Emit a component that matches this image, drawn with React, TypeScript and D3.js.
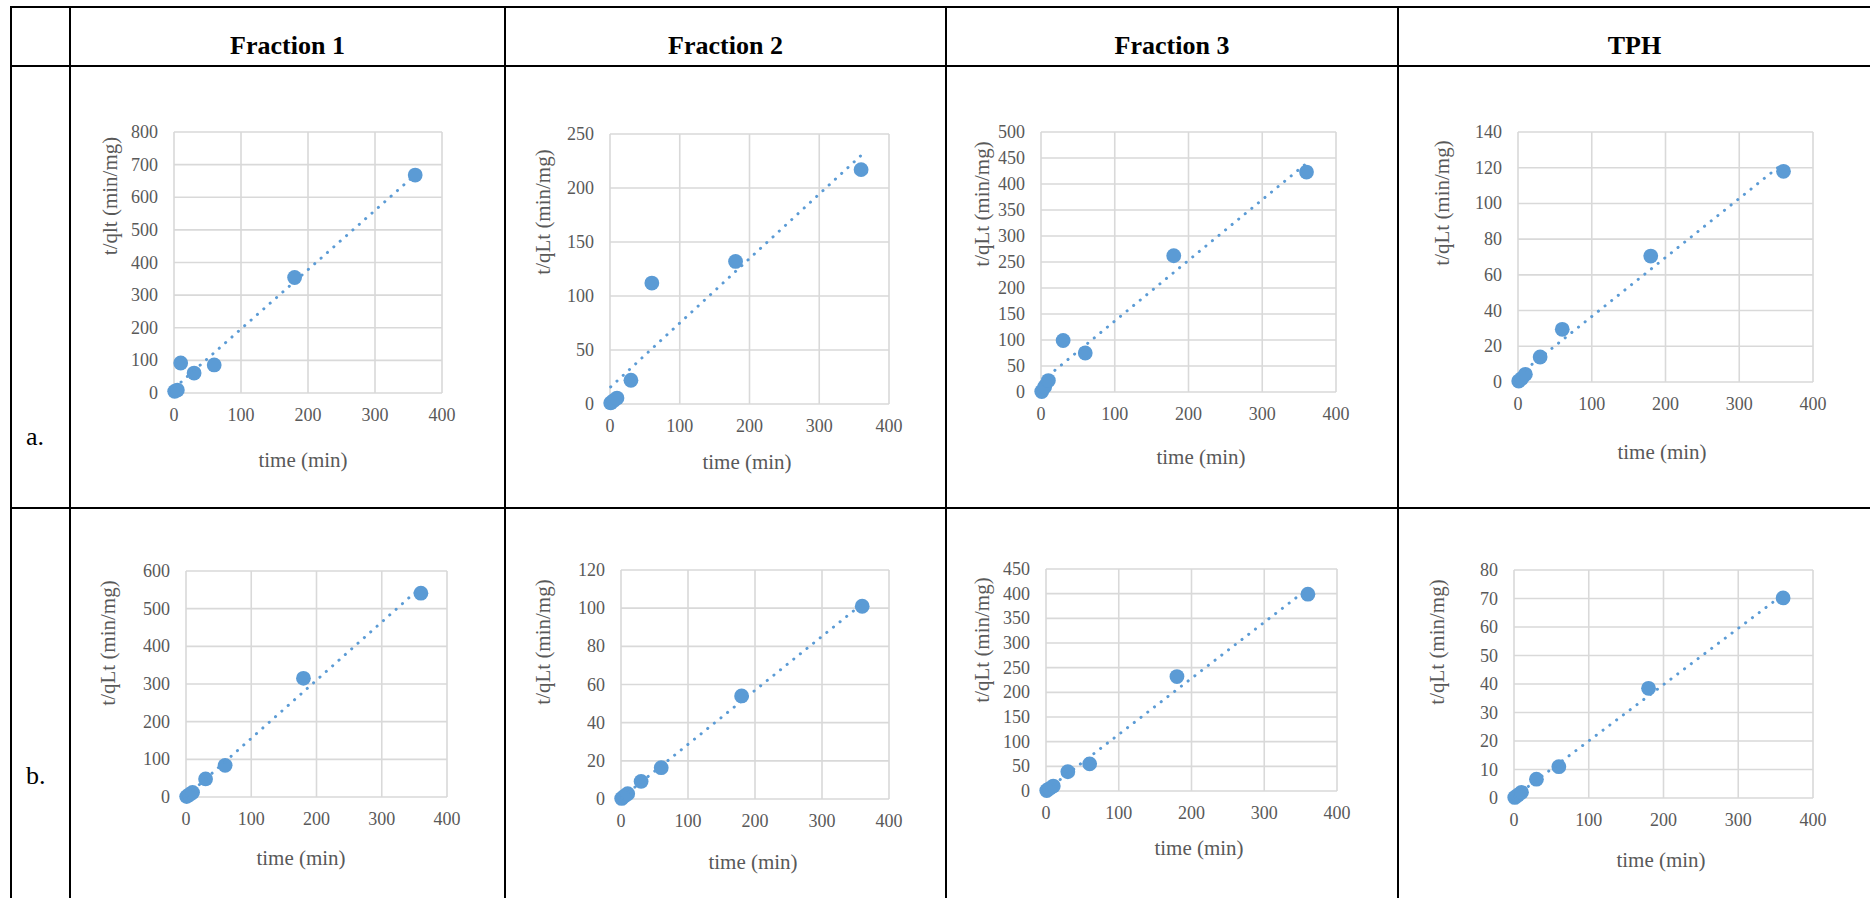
import React, { useEffect, useRef } from 'react';
import * as d3 from 'd3';

// sampling times (min)
const times = [1, 5, 10, 30, 60, 180, 360];

// t/qt values
const aFraction1 = [5, 9, 92, 61, 86, 354, 668];
const aFraction2 = [1, 3, 5.5, 22, 112, 132, 217];
const aFraction3 = [1, 10, 22, 99, 75, 262, 423];
const aTPH = [0.5, 2, 4.3, 14, 29.5, 70.5, 118];
const bFraction1 = [1, 6, 12, 48, 84, 315, 541];
const bFraction2 = [0.3, 1.5, 2.8, 9.2, 16.4, 54, 101];
const bFraction3 = [1, 5, 10, 39, 55, 232, 399];
const bTPH = [0.2, 1, 2, 6.6, 11, 38.5, 70.2];

const columnHeaders = ['Fraction 1', 'Fraction 2', 'Fraction 3', 'TPH'];
const rowLabels = ['a.', 'b.'];
const xTicks = [0, 100, 200, 300, 400];
const yMaxes = [800, 250, 500, 140, 600, 120, 450, 80];
const ySteps = [100, 50, 50, 20, 100, 20, 50, 10];
const yTitles = [
  't/qlt (min/mg)', 't/qLt (min/mg)', 't/qLt (min/mg)', 't/qLt (min/mg)',
  't/qLt (min/mg)', 't/qLt (min/mg)', 't/qLt (min/mg)', 't/qLt (min/mg)',
];
const series = [aFraction1, aFraction2, aFraction3, aTPH, bFraction1, bFraction2, bFraction3, bTPH];

// layout of each chart: plot box [left, top, right, bottom], title centres
const layout = [
  { box: [174, 132, 442, 393], xt: [303, 460], yt: [110, 196] },
  { box: [610, 134, 889, 404], xt: [747, 462], yt: [543, 212] },
  { box: [1041, 132, 1336, 392], xt: [1201, 457], yt: [982, 204] },
  { box: [1518, 132, 1813, 382], xt: [1662, 452], yt: [1442, 203] },
  { box: [186, 571, 447, 797], xt: [301, 858], yt: [108, 643] },
  { box: [621, 570, 889, 799], xt: [753, 862], yt: [543, 642] },
  { box: [1046, 569, 1337, 791], xt: [1199, 848], yt: [982, 640] },
  { box: [1514, 570, 1813, 798], xt: [1661, 860], yt: [1437, 642] },
];

const colX = [11, 70, 505, 946, 1398, 1871];
const rowY = [7, 66, 508, 900];

const W = 1870;
const H = 898;
const serif = '"Liberation Serif", "Times New Roman", serif';
const blue = '#5b9bd5';
const grey = '#595959';
const grid = '#d9d9d9';

const App = () => {
  const svgRef = useRef(null);

  useEffect(() => {
    const svg = d3.select(svgRef.current);
    svg.selectAll('*').remove();

    // table
    const table = svg.append('g');
    colX.forEach(x => {
      table.append('line')
        .attr('x1', x).attr('x2', x)
        .attr('y1', rowY[0] - 1).attr('y2', rowY[rowY.length - 1])
        .attr('stroke', '#000').attr('stroke-width', 2);
    });
    rowY.forEach(y => {
      table.append('line')
        .attr('x1', colX[0] - 1).attr('x2', colX[colX.length - 1])
        .attr('y1', y).attr('y2', y)
        .attr('stroke', '#000').attr('stroke-width', 2);
    });

    columnHeaders.forEach((h, i) => {
      table.append('text')
        .attr('x', (colX[i + 1] + colX[i + 2]) / 2)
        .attr('y', 54)
        .attr('text-anchor', 'middle')
        .style('font-family', serif)
        .style('font-weight', 'bold')
        .style('font-size', '26px')
        .text(h);
    });

    const rowBase = [445, 784];
    rowLabels.forEach((r, i) => {
      table.append('text')
        .attr('x', 26)
        .attr('y', rowBase[i])
        .style('font-family', serif)
        .style('font-size', '26px')
        .text(r);
    });

    // charts
    series.forEach((values, i) => {
      const [L, T, R, B] = layout[i].box;
      const g = svg.append('g');

      const x = d3.scaleLinear().domain([0, 400]).range([L, R]);
      const y = d3.scaleLinear().domain([0, yMaxes[i]]).range([B, T]);
      const yTicks = d3.range(0, yMaxes[i] + ySteps[i] / 2, ySteps[i]);

      // gridlines
      g.selectAll('.hg')
        .data(yTicks)
        .enter().append('line')
        .attr('x1', L).attr('x2', R)
        .attr('y1', d => y(d)).attr('y2', d => y(d))
        .attr('stroke', grid).attr('stroke-width', 1.6);

      g.selectAll('.vg')
        .data(xTicks)
        .enter().append('line')
        .attr('y1', T).attr('y2', B)
        .attr('x1', d => x(d)).attr('x2', d => x(d))
        .attr('stroke', grid).attr('stroke-width', 1.6);

      // tick labels
      g.selectAll('.yl')
        .data(yTicks)
        .enter().append('text')
        .attr('x', L - 16)
        .attr('y', d => y(d) + 6)
        .attr('text-anchor', 'end')
        .style('font-family', serif)
        .style('font-size', '18px')
        .attr('fill', grey)
        .text(d => d);

      g.selectAll('.xl')
        .data(xTicks)
        .enter().append('text')
        .attr('x', d => x(d))
        .attr('y', B + 28)
        .attr('text-anchor', 'middle')
        .style('font-family', serif)
        .style('font-size', '18px')
        .attr('fill', grey)
        .text(d => d);

      // axis titles
      g.append('text')
        .attr('x', layout[i].xt[0])
        .attr('y', layout[i].xt[1])
        .attr('text-anchor', 'middle')
        .attr('dominant-baseline', 'central')
        .style('font-family', serif)
        .style('font-size', '21px')
        .attr('fill', grey)
        .text('time (min)');

      g.append('text')
        .attr('transform', `translate(${layout[i].yt[0]},${layout[i].yt[1]}) rotate(-90)`)
        .attr('text-anchor', 'middle')
        .attr('dominant-baseline', 'central')
        .style('font-family', serif)
        .style('font-size', '21px')
        .attr('fill', grey)
        .text(yTitles[i]);

      // markers
      const pts = times.map((t, k) => ({ t, v: values[k] }));
      g.selectAll('.pt')
        .data(pts)
        .enter().append('circle')
        .attr('cx', d => x(d.t))
        .attr('cy', d => y(d.v))
        .attr('r', 7.4)
        .attr('fill', blue);

      // linear trendline (least squares)
      const mt = d3.mean(pts, d => d.t);
      const mv = d3.mean(pts, d => d.v);
      const sxy = d3.sum(pts, d => (d.t - mt) * (d.v - mv));
      const sxx = d3.sum(pts, d => (d.t - mt) * (d.t - mt));
      const slope = sxy / sxx;
      const icpt = mv - slope * mt;
      const ends = d3.extent(times).map(t => ({ t, v: slope * t + icpt }));

      const line = d3.line()
        .x(d => x(d.t))
        .y(d => y(d.v));

      g.append('path')
        .datum(ends)
        .attr('d', line)
        .attr('fill', 'none')
        .attr('stroke', blue)
        .attr('stroke-width', 3)
        .attr('stroke-linecap', 'round')
        .attr('stroke-dasharray', '0.1 8.4');
    });
  }, []);

  return (
    <svg
      ref={svgRef}
      width={W}
      height={H}
      style={{ position: 'absolute', left: 0, top: 0, background: '#fff' }}
    />
  );
};

export default App;
